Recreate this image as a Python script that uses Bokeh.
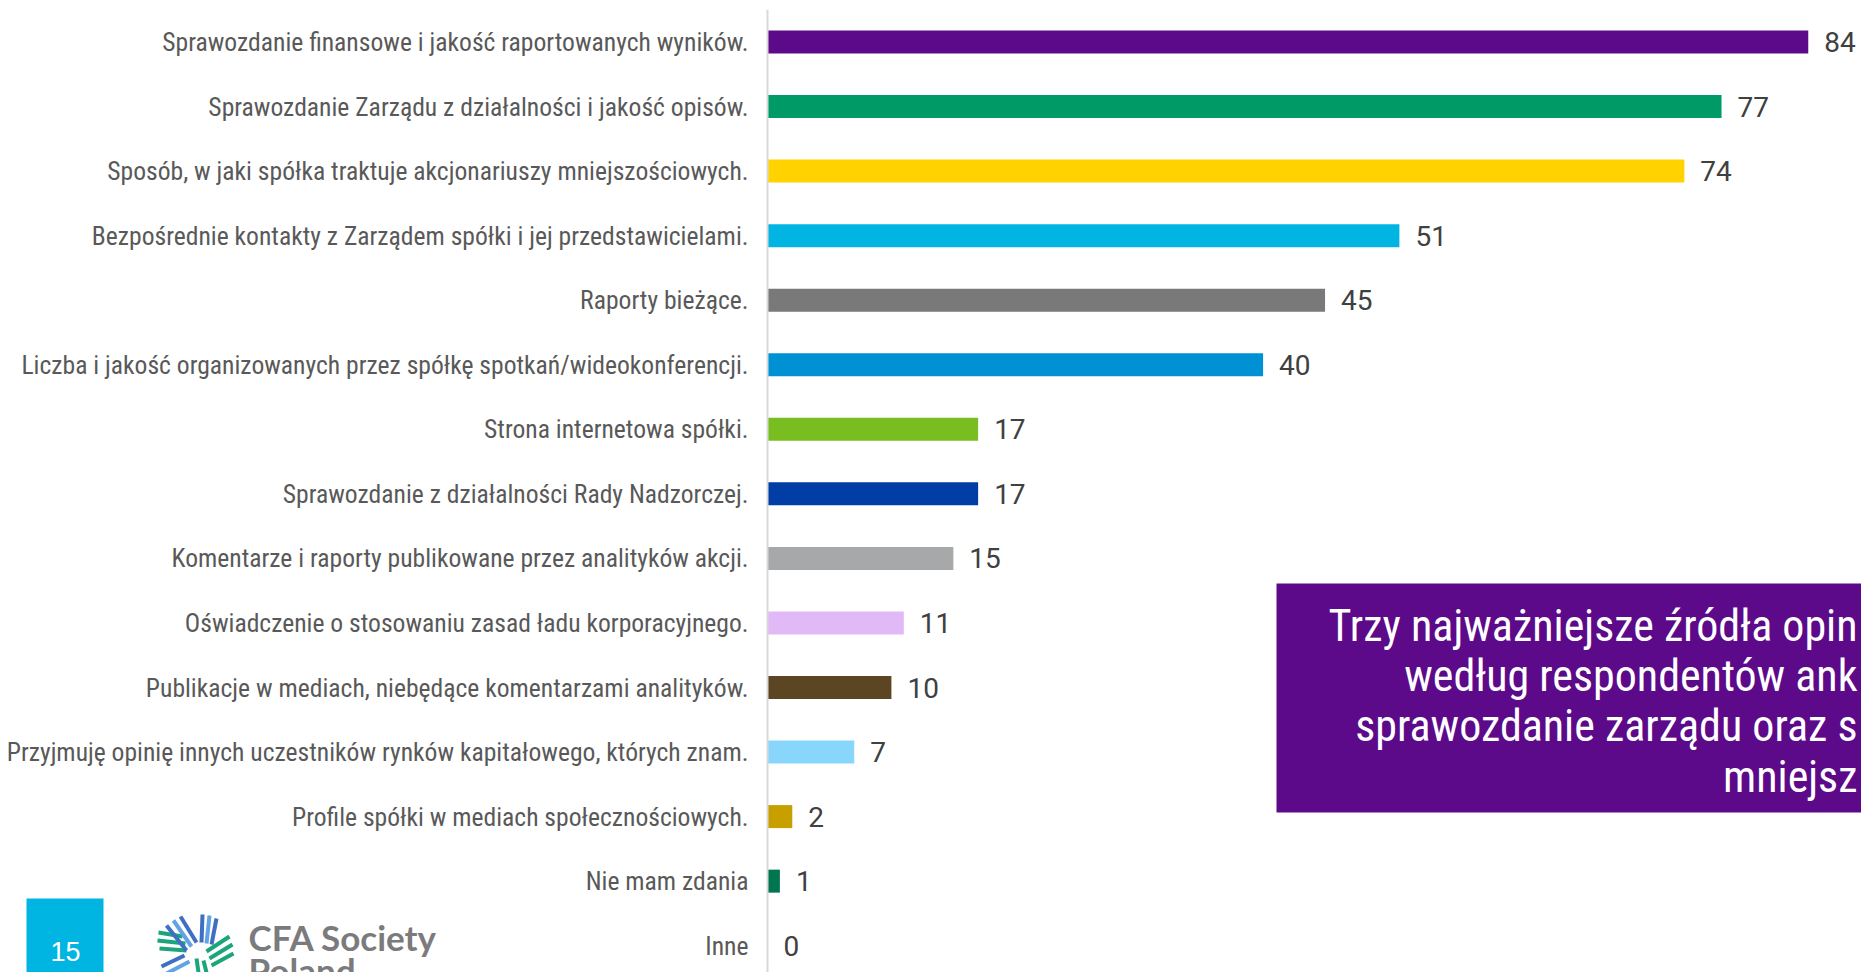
from bokeh.plotting import figure
from bokeh.models import Range1d, Label, BoxAnnotation, Arrow, ColumnDataSource, Span
from bokeh.core.properties import value
from bokeh.embed import file_html
from bokeh.resources import INLINE

# ---------------- data ----------------
categories = [
    "Sprawozdanie finansowe i jakość raportowanych wyników.",
    "Sprawozdanie Zarządu z działalności i jakość opisów.",
    "Sposób, w jaki spółka traktuje akcjonariuszy mniejszościowych.",
    "Bezpośrednie kontakty z Zarządem spółki i jej przedstawicielami.",
    "Raporty bieżące.",
    "Liczba i jakość organizowanych przez spółkę spotkań/wideokonferencji.",
    "Strona internetowa spółki.",
    "Sprawozdanie z działalności Rady Nadzorczej.",
    "Komentarze i raporty publikowane przez analityków akcji.",
    "Oświadczenie o stosowaniu zasad ładu korporacyjnego.",
    "Publikacje w mediach, niebędące komentarzami analityków.",
    "Przyjmuję opinię innych uczestników rynków kapitałowego, których znam.",
    "Profile spółki w mediach społecznościowych.",
    "Nie mam zdania",
    "Inne",
]
values = [84, 77, 74, 51, 45, 40, 17, 17, 15, 11, 10, 7, 2, 1, 0]
bar_colors = [
    "#5C0A89", "#009A66", "#FFD200", "#00B5E2", "#797979", "#0091D5", "#78BE21",
    "#003DA5", "#A7A8AA", "#E1B9F7", "#5B4522", "#89D6FC", "#C7A000", "#00754F", "#FFFFFF",
]
callout_lines = [
    "Trzy najważniejsze źródła opin",
    "według respondentów ank",
    "sprawozdanie zarządu oraz s",
    "mniejsz",
]
page_number = "15"
logo_lines = ["CFA Society", "Poland"]

COND = "Roboto Condensed, DejaVu Sans Condensed, sans-serif"

# ---------------- layout (pixels) ----------------
W, H = 1861, 972
AXIS_PX = 767          # x pixel of value 0
UNIT_PX = 12.39        # pixels per value unit
ROW0 = 41.5            # centre of first row
ROW_PX = 64.55         # row pitch
TOP = 9


def X(px):
    return (px - AXIS_PX) / UNIT_PX


def Y(py):
    return (py - ROW0) / ROW_PX


idx = list(range(len(categories)))
src = ColumnDataSource(dict(
    idx=idx, value=values, color=bar_colors, label=[str(v) for v in values],
    cat=categories, zero=[0] * len(values),
))

p = figure(
    width=W, height=H, output_backend="svg", toolbar_location=None,
    x_range=Range1d(X(0), X(W)), y_range=Range1d(Y(H), Y(TOP)),
    x_axis_location=None, y_axis_location=None,
    min_border_left=0, min_border_right=0, min_border_top=TOP, min_border_bottom=0,
    background_fill_color="white", border_fill_color="white",
)
p.outline_line_color = None
p.xgrid.visible = False
p.ygrid.visible = False

# value axis baseline
p.add_layout(Span(location=0, dimension="height", line_color="#d9d9d9", line_width=2))

p.hbar(y="idx", left=0, right="value", height=23 / ROW_PX, fill_color="color",
       line_color=None, source=src)
# value labels
p.text(x="value", y="idx", text="label", x_offset=16, text_baseline="middle",
       text_align="left", text_font=value("Roboto"), text_font_size="28px",
       text_color="#404040", source=src)
# category labels (left of the baseline)
p.text(x="zero", y="idx", text="cat", x_offset=-19, text_baseline="middle",
       text_align="right", text_font=value(COND), text_font_size="25.6px",
       text_color="#595959", source=src)

# ---------------- callout box ----------------
p.add_layout(BoxAnnotation(left=X(1276), right=X(2200), top=Y(583), bottom=Y(812),
                           fill_color="#5C0A89", fill_alpha=1, line_color=None))
callout_y = [625, 675, 725, 776]
for t, cy in zip(callout_lines, callout_y):
    p.add_layout(Label(x=X(1857), y=Y(cy), text=t, text_font=COND,
                       text_font_size="44px", text_color="white",
                       text_baseline="middle", text_align="right"))

# ---------------- footer: page number and logo ----------------
p.add_layout(BoxAnnotation(left=X(26), right=X(103), top=Y(898), bottom=Y(1010),
                           fill_color="#00B5E2", fill_alpha=1, line_color=None))
p.add_layout(Label(x=X(65), y=Y(951), text=page_number, text_font="Liberation Sans",
                   text_font_size="27px", text_color="white",
                   text_baseline="middle", text_align="center"))
p.add_layout(Label(x=X(248), y=Y(936), text=logo_lines[0], text_font="Lato",
                   text_font_style="bold", text_font_size="35px", text_color="#7b7b7d",
                   text_baseline="middle", text_align="left"))
p.add_layout(Label(x=X(248), y=Y(969), text=logo_lines[1], text_font="Lato",
                   text_font_style="bold", text_font_size="35px", text_color="#7b7b7d",
                   text_baseline="middle", text_align="left"))

BLUE, LBLUE, GREEN = "#3F6FC2", "#62A3E3", "#1BA57B"
stripes = [
    # green, left (near horizontal)
    ((158, 932), (182, 936), GREEN), ((157, 940), (185, 943), GREEN),
    ((159, 948), (186, 950), GREEN),
    # blue, upper-left diagonal
    ((166, 925), (186, 950), BLUE), ((173, 920), (191, 946), LBLUE),
    ((180, 916), (196, 942), BLUE),
    # blue, top (near vertical)
    ((202, 914), (201, 942), BLUE), ((209, 915), (206, 943), LBLUE),
    ((216, 918), (211, 944), BLUE),
    # green, right diagonal
    ((229, 936), (206, 951), GREEN), ((232, 944), (209, 958), GREEN),
    ((233, 953), (211, 965), GREEN),
    # blue, lower-left diagonal
    ((161, 966), (184, 955), BLUE), ((166, 973), (189, 961), LBLUE),
    # green, bottom
    ((198, 972), (196, 958), GREEN), ((206, 972), (203, 960), GREEN),
]
for (x0, y0), (x1, y1), c in stripes:
    p.add_layout(Arrow(end=None, x_start=X(x0), y_start=Y(y0), x_end=X(x1), y_end=Y(y1),
                       line_color=c, line_width=4))

open("out.html", "w").write(file_html(p, INLINE))
